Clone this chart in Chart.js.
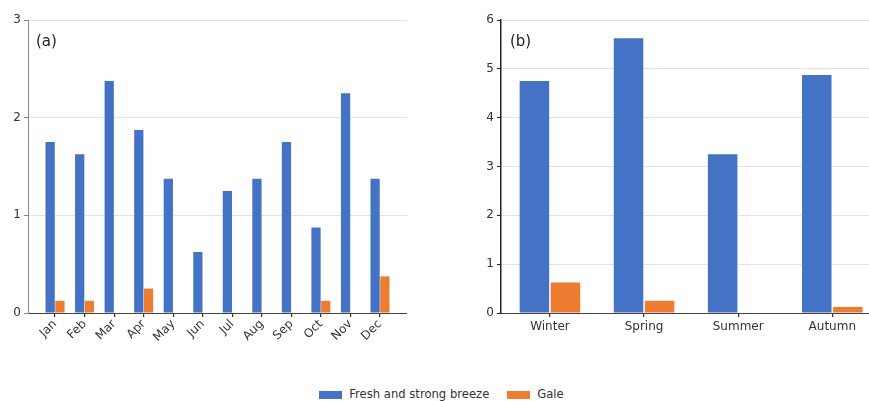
<!DOCTYPE html>
<html>
<head>
<meta charset="utf-8">
<script src="https://cdn.jsdelivr.net/npm/chart.js@4.4.1/dist/chart.umd.min.js"></script>
<style>
  html, body { margin: 0; padding: 0; background: #fff; overflow: hidden; }
  body { width: 869px; height: 401px; position: relative; font-family: "DejaVu Sans", sans-serif; }
  .wrap { position: absolute; top: 0; }
  .panel { position: absolute; font-size: 15px; color: #222; }
  #legend { position: absolute; left: 7px; width: 869px; top: 387px; text-align: center; font-size: 11.6px; color: #333; white-space: nowrap; }
  #legend span.item { display: inline-block; margin: 0 9px; }
  #legend span.box { display: inline-block; width: 23px; height: 8px; vertical-align: -1px; margin-right: 7px; }
</style>
</head>
<body>
<div class="wrap" style="left:0;width:420px;height:370px;"><canvas id="ca"></canvas></div>
<div class="wrap" style="left:440px;width:429px;height:370px;"><canvas id="cb"></canvas></div>
<div class="panel" style="left:36px;top:32px;">(a)</div>
<div class="panel" style="left:510px;top:32px;">(b)</div>
<div id="legend"></div>
<script>
const seriesNames = ["Fresh and strong breeze", "Gale"];
const seriesColors = ["#4472C4", "#ED7D31"];

const months = ["Jan", "Feb", "Mar", "Apr", "May", "Jun", "Jul", "Aug", "Sep", "Oct", "Nov", "Dec"];
const monthBreeze = [1.75, 1.625, 2.375, 1.875, 1.375, 0.625, 1.25, 1.375, 1.75, 0.875, 2.25, 1.375];
const monthGale   = [0.125, 0.125, 0, 0.25, 0, 0, 0, 0, 0, 0.125, 0, 0.375];

const seasons = ["Winter", "Spring", "Summer", "Autumn"];
const seasonBreeze = [4.75, 5.625, 3.25, 4.875];
const seasonGale   = [0.625, 0.25, 0, 0.125];

const yTicksA = [0, 1, 2, 3];
const yTicksB = [0, 1, 2, 3, 4, 5, 6];

function pts(arr) { return arr.map((v, i) => ({ x: i, y: v })); }

function makeChart(id, cats, s1, s2, opts) {
  const ctx = document.getElementById(id);
  return new Chart(ctx, {
    type: 'bar',
    data: {
      datasets: [
        { label: seriesNames[0], data: pts(s1), backgroundColor: seriesColors[0], borderWidth: 0, categoryPercentage: 0.66, barPercentage: 0.95 },
        { label: seriesNames[1], data: pts(s2), backgroundColor: seriesColors[1], borderWidth: 0, categoryPercentage: 0.66, barPercentage: 0.95 }
      ]
    },
    options: {
      responsive: true,
      maintainAspectRatio: false,
      animation: false,
      layout: { padding: { top: 20, right: opts.padRight, left: 0, bottom: 0 } },
      plugins: { legend: { display: false }, tooltip: { enabled: false } },
      scales: {
        x: {
          type: 'linear',
          min: opts.xmin, max: opts.xmax,
          offset: false,
          afterBuildTicks: (s) => { s.ticks = cats.map((c, i) => ({ value: i })); },
          afterFit: (s) => { s.height = 57; },
          ticks: {
            includeBounds: false,
            autoSkip: false,
            maxRotation: opts.rot, minRotation: opts.rot,
            color: '#333',
            font: { family: 'DejaVu Sans', size: 12 },
            padding: opts.rot ? 0 : 3,
            callback: (v) => cats[v] !== undefined ? cats[v] : ''
          },
          grid: { offset: false, drawOnChartArea: false, drawTicks: true, tickLength: 4, tickColor: '#333', lineWidth: 1.2 },
          border: { color: '#444', width: 1 }
        },
        y: {
          min: 0, max: opts.ymax,
          afterBuildTicks: (s) => { s.ticks = opts.yt.map(v => ({ value: v })); },
          afterFit: (s) => { s.width = opts.yw; },
          ticks: { color: '#333', font: { family: 'DejaVu Sans', size: 12 }, padding: 3 },
          grid: { color: '#e2e2e2', lineWidth: 1, tickLength: 4, tickColor: opts.axisColor },
          border: { color: opts.axisColor, width: opts.axisWidth }
        }
      }
    }
  });
}

makeChart('ca', months, monthBreeze, monthGale, { xmin: -0.915, xmax: 11.915, ymax: 3, yt: yTicksA, yw: 28, padRight: 13, rot: 45, axisColor: '#888', axisWidth: 1 });
makeChart('cb', seasons, seasonBreeze, seasonGale, { xmin: -0.52, xmax: 3.39, ymax: 6, yt: yTicksB, yw: 61, padRight: 0, rot: 0, axisColor: '#222', axisWidth: 1.5 });

const lg = document.getElementById('legend');
seriesNames.forEach((n, i) => {
  const it = document.createElement('span'); it.className = 'item';
  const b = document.createElement('span'); b.className = 'box'; b.style.background = seriesColors[i];
  it.appendChild(b); it.appendChild(document.createTextNode(n));
  lg.appendChild(it);
});
</script>
</body>
</html>
